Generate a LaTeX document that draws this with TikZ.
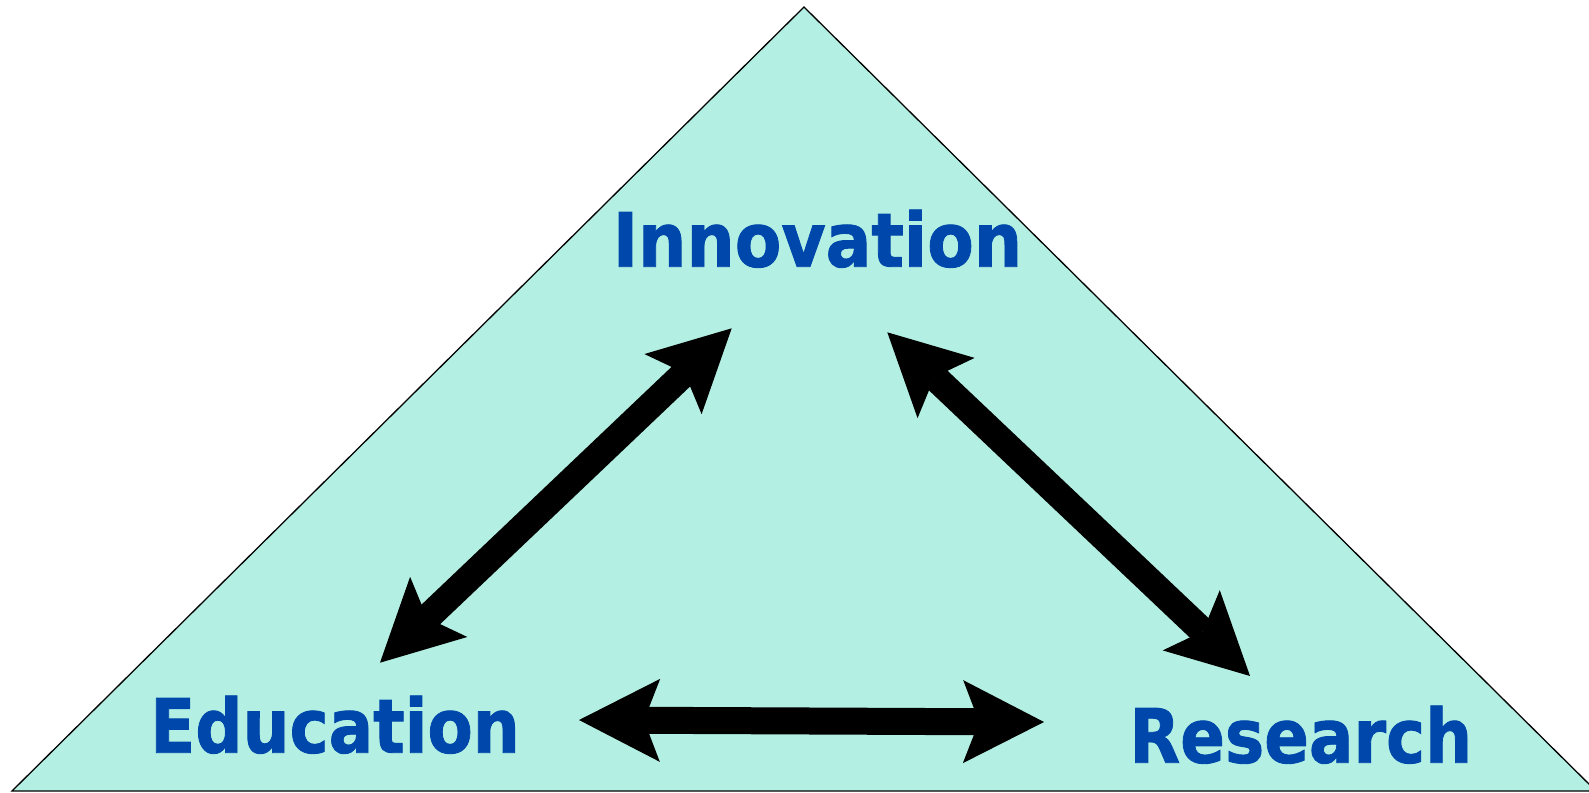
\documentclass[tikz,border=0pt]{standalone}
\usepackage{fontspec}
\setmainfont{DejaVu Sans}
\newfontfamily\lblfont[FakeBold=1.2]{DejaVu Sans Bold}
\usetikzlibrary{arrows.meta}
\definecolor{mint}{RGB}{179,240,227}
\definecolor{tblue}{RGB}{0,71,171}
\tikzset{
  lbl/.style={font=\lblfont\fontsize{75}{80}\selectfont, text=tblue, inner sep=0pt, anchor=base},
  bigarrow/.style={line width=27pt, {Stealth[length=81pt,width=83pt,inset=16pt,line width=0pt]}-{Stealth[length=81pt,width=83pt,inset=16pt,line width=0pt]}},
  tri/.style={fill=mint, draw=black, line width=1.3pt, line join=miter}
}
\begin{document}
\begin{tikzpicture}[x=1pt,y=-1pt]
\useasboundingbox (0,0) rectangle (1589,792);
\clip (0,0) rectangle (1589,792);
\coordinate (apex) at (804,7);
\coordinate (bl) at (12,791);
\coordinate (br) at (1596,791);
\draw[tri] (apex) -- (bl) -- (br) -- cycle;
\node[lbl] (inn) at (817.5,266.7) {\scalebox{0.905}[1]{Innovation}};
\node[lbl] (edu) at (335,752.7) {\scalebox{0.88}[1]{Education}};
\node[lbl] (res) at (1300.8,762.7) {\scalebox{0.88}[1]{Research}};
\coordinate (a1) at (380,662.7);
\coordinate (a2) at (731.7,328.3);
\coordinate (b1) at (887.3,332.3);
\coordinate (b2) at (1250,676);
\coordinate (c1) at (579,720);
\coordinate (c2) at (1044,722);
\draw[bigarrow] (a1) -- (a2);
\draw[bigarrow] (b1) -- (b2);
\draw[bigarrow] (c1) -- (c2);
\end{tikzpicture}
\end{document}
